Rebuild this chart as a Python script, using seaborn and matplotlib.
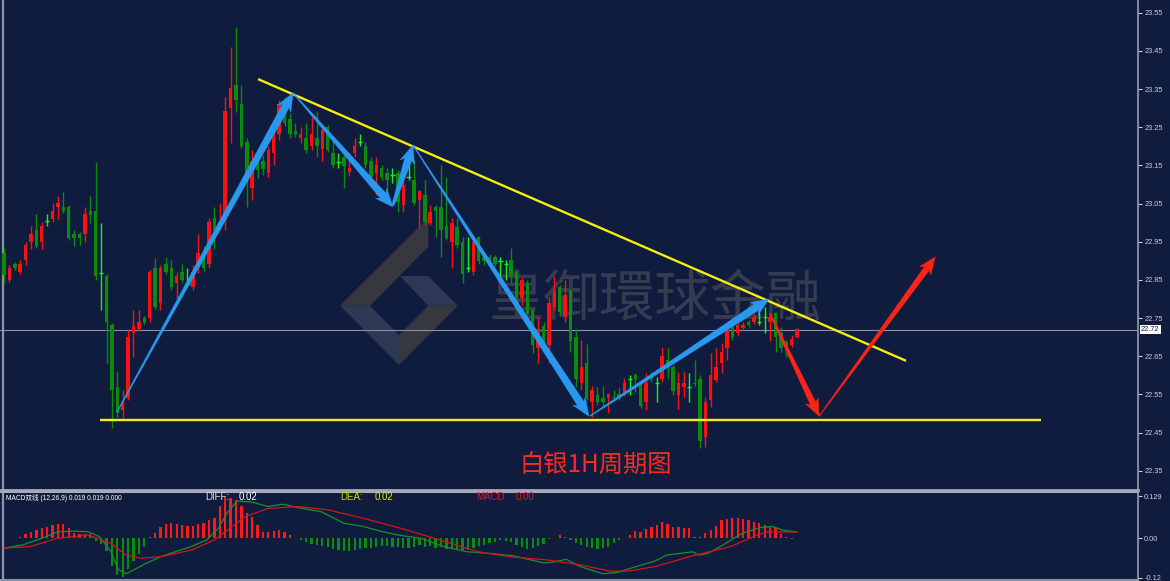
import numpy as np
import matplotlib
matplotlib.use("Agg")
import matplotlib.pyplot as plt
import matplotlib.transforms as mtransforms
from matplotlib.patches import Polygon
import seaborn as sns

# ---------------- data ----------------
opens = [22.920,22.849,22.891,22.870,22.902,22.949,22.980,22.949,23.003,23.009,
         23.041,23.041,23.041,22.970,22.970,22.970,23.030,23.030,22.869,22.860,
         22.732,22.569,22.509,22.540,22.711,22.721,22.750,22.750,22.881,22.789,
         22.891,22.881,22.842,22.870,22.840,22.831,22.881,22.910,22.891,23.012,
         22.988,23.007,23.300,23.360,23.311,23.211,23.090,23.156,23.161,23.130,
         23.182,23.232,23.321,23.271,23.240,23.221,23.221,23.201,23.221,23.193,
         23.250,23.182,23.160,23.172,23.132,23.182,23.211,23.201,23.161,23.130,
         23.143,23.130,23.125,23.130,23.046,23.119,23.111,23.059,23.072,22.999,
         23.041,23.041,22.991,22.949,22.988,22.949,22.881,22.870,22.962,22.910,
         22.910,22.910,22.899,22.891,22.902,22.870,22.802,22.842,22.771,22.671,
         22.729,22.679,22.779,22.831,22.752,22.821,22.700,22.580,22.632,22.530,
         22.548,22.540,22.540,22.543,22.551,22.551,22.590,22.600,22.577,22.530,
         22.600,22.580,22.590,22.640,22.622,22.548,22.569,22.569,22.580,22.590,
         22.438,22.535,22.587,22.632,22.671,22.726,22.711,22.724,22.739,22.739,
         22.739,22.752,22.739,22.763,22.711,22.687,22.679,22.700]
highs = [22.933,22.889,22.897,22.902,22.949,22.991,23.022,23.001,23.022,23.051,
         23.070,23.080,23.046,22.980,22.975,23.041,23.070,23.159,22.999,22.865,
         22.737,22.608,22.561,22.718,22.771,22.771,22.755,22.876,22.907,22.889,
         22.910,22.902,22.870,22.891,22.881,22.889,22.970,22.939,23.012,23.041,
         23.051,23.329,23.460,23.512,23.360,23.221,23.190,23.190,23.177,23.201,
         23.242,23.321,23.329,23.287,23.261,23.250,23.261,23.277,23.290,23.256,
         23.256,23.216,23.182,23.177,23.182,23.221,23.232,23.211,23.172,23.172,
         23.151,23.143,23.143,23.138,23.119,23.172,23.164,23.085,23.111,23.046,
         23.046,23.151,23.119,23.012,23.012,22.962,22.962,22.962,22.965,22.923,
         22.918,22.915,22.910,22.902,22.933,22.876,22.855,22.849,22.776,22.752,
         22.739,22.805,22.860,22.836,22.849,22.826,22.721,22.692,22.682,22.572,
         22.569,22.572,22.553,22.561,22.566,22.593,22.600,22.606,22.587,22.606,
         22.608,22.595,22.674,22.671,22.627,22.608,22.608,22.606,22.640,22.600,
         22.543,22.658,22.671,22.684,22.737,22.745,22.737,22.739,22.745,22.763,
         22.771,22.779,22.763,22.766,22.726,22.692,22.705,22.724]
lows = [22.842,22.844,22.876,22.865,22.889,22.931,22.933,22.931,22.991,23.001,
        23.009,23.025,22.954,22.939,22.941,22.949,22.999,22.849,22.771,22.632,
        22.462,22.490,22.488,22.535,22.648,22.716,22.734,22.739,22.773,22.771,
        22.865,22.823,22.802,22.844,22.834,22.823,22.868,22.873,22.881,22.931,
        22.980,22.980,23.208,23.290,23.195,23.041,23.059,23.117,23.125,23.119,
        23.151,23.216,23.253,23.221,23.224,23.208,23.182,23.190,23.172,23.161,
        23.185,23.143,23.143,23.090,23.122,23.172,23.201,23.143,23.111,23.072,
        23.111,23.077,23.103,23.028,23.028,23.111,23.046,22.988,22.994,22.994,
        22.962,22.910,22.954,22.881,22.933,22.842,22.870,22.862,22.891,22.889,
        22.894,22.886,22.857,22.849,22.842,22.789,22.784,22.755,22.658,22.632,
        22.661,22.632,22.771,22.758,22.739,22.661,22.569,22.561,22.535,22.490,
        22.522,22.514,22.501,22.535,22.535,22.545,22.548,22.556,22.514,22.509,
        22.582,22.530,22.582,22.593,22.548,22.511,22.543,22.530,22.572,22.409,
        22.412,22.517,22.582,22.606,22.640,22.692,22.703,22.718,22.726,22.734,
        22.731,22.711,22.690,22.661,22.661,22.648,22.674,22.698]
closes = [22.862,22.881,22.881,22.891,22.941,22.970,22.939,22.991,23.003,23.030,
          23.051,23.030,22.959,22.959,22.959,23.022,23.020,22.860,22.869,22.739,
          22.561,22.501,22.530,22.700,22.729,22.739,22.739,22.870,22.779,22.881,
          22.870,22.831,22.860,22.849,22.840,22.870,22.920,22.881,23.001,22.980,
          23.001,23.292,23.352,23.321,23.201,23.119,23.161,23.138,23.140,23.190,
          23.224,23.311,23.261,23.232,23.232,23.232,23.190,23.232,23.201,23.242,
          23.190,23.151,23.160,23.148,23.143,23.201,23.211,23.151,23.119,23.151,
          23.119,23.111,23.125,23.054,23.098,23.119,23.051,23.083,23.001,23.028,
          23.030,22.980,22.959,22.999,22.941,22.865,22.881,22.949,22.899,22.899,
          22.899,22.891,22.899,22.891,22.860,22.802,22.849,22.760,22.679,22.721,
          22.671,22.789,22.821,22.766,22.810,22.690,22.590,22.622,22.540,22.561,
          22.530,22.530,22.551,22.540,22.540,22.580,22.590,22.590,22.519,22.580,
          22.590,22.580,22.650,22.622,22.559,22.580,22.580,22.569,22.577,22.428,
          22.530,22.600,22.622,22.661,22.718,22.700,22.732,22.732,22.732,22.752,
          22.739,22.752,22.752,22.700,22.671,22.671,22.695,22.721]

macd_hist = [0.002,0.002,0.002,0.005,
             0.013,0.020,0.026,0.031,0.036,0.042,0.045,0.043,0.030,0.015,0.012,0.013,0.014,
             -0.008,-0.018,-0.040,-0.085,-0.112,-0.118,-0.095,-0.070,-0.048,-0.028,
             0.003,
             0.017,0.036,0.043,0.046,0.043,0.041,0.039,0.039,0.043,0.046,0.056,0.061,0.097,
             0.127,0.124,0.117,0.100,0.076,0.066,0.041,0.020,0.018,0.022,0.025,0.020,0.010,0.002,
             -0.004,-0.010,-0.016,-0.020,-0.024,-0.028,-0.032,-0.036,-0.040,-0.038,
             -0.035,-0.032,-0.030,-0.030,-0.028,-0.024,-0.022,-0.025,-0.026,-0.029,
             -0.029,-0.026,-0.019,-0.026,-0.023,-0.030,-0.028,-0.032,-0.033,-0.035,
             -0.036,-0.035,-0.029,-0.023,-0.020,-0.015,-0.010,-0.005,-0.008,-0.012,
             -0.020,-0.028,-0.032,-0.031,-0.024,-0.016,-0.002,0.002,0.010,0.005,
             -0.004,-0.015,-0.020,-0.025,-0.030,-0.033,-0.030,-0.025,-0.015,-0.005,
             0.002,0.010,0.022,0.018,0.027,0.033,0.041,0.049,0.043,0.036,
             0.036,0.030,0.030,0.005,0.005,0.017,0.025,0.039,0.056,0.059,
             0.061,0.061,0.059,0.056,0.051,0.048,0.041,0.036,0.030,0.012,
             0.005,-0.002,0.002]

diff_bar = [0,3.5,7,10,13,15.6,17.7,19.8,21.2,22.7,25.9,29,34.7,37.6,39.7,41.5,43.2,46.1,
            48.9,51.7,54.6,58.8,63,66.6,70.2,73,77.3,81.5,85.8,90,94.3,100,102,104.2,106.8,
            111,113.7,117.2,120.7,122.8,127.7,128.7,130.5,133.3,136.8,140.3,142.4,144.4,147]
diff_val = [-0.030,-0.020,0.000,0.020,0.022,0.020,0.005,-0.040,-0.095,-0.108,-0.080,-0.056,
            -0.025,-0.005,0.030,0.081,0.114,0.110,0.097,0.104,0.093,0.081,0.046,0.036,0.020,
            0.010,0.000,-0.025,-0.041,-0.046,-0.053,-0.075,-0.072,-0.064,-0.086,-0.108,-0.104,
            -0.086,-0.069,-0.051,-0.041,-0.051,-0.046,-0.020,0.015,0.033,0.036,0.025,0.019]
dea_bar = [0,4.9,9.9,15.6,19.8,22.6,25.5,29,34.7,39,41.8,44.7,48.9,54.6,60.3,66.6,73.7,80.8,
           87.9,93.6,100.7,106.8,112.3,115.8,120.7,127.7,134.7,139.6,141.6,147]
dea_val = [-0.030,-0.025,0.000,0.010,-0.015,-0.051,-0.061,-0.056,-0.036,-0.005,0.030,0.066,
           0.091,0.097,0.086,0.061,0.030,-0.005,-0.041,-0.056,-0.066,-0.081,-0.100,-0.100,
           -0.086,-0.053,-0.025,0.010,0.020,0.019]

price_ticks = [22.35,22.45,22.55,22.65,22.75,22.85,22.95,23.05,23.15,23.25,23.35,23.45,23.55]
macd_ticks = [0.129, 0.0, -0.12]
macd_tick_labels = ["0.129", "0.00", "-0.12"]
current_price = 22.72

support_line = ([17.8, 192.2], [22.483, 22.483])
resist_line = ([47.1, 167.2], [23.376, 22.638])
blue_arrows = [((20.95, 22.504), (53.57, 23.340)),
               ((53.57, 23.340), (72.10, 23.041)),
               ((72.10, 23.046), (75.81, 23.203)),
               ((75.81, 23.203), (108.40, 22.493)),
               ((108.60, 22.493), (141.80, 22.800))]
red_arrows = [((142.0, 22.761), (151.1, 22.493)),
              ((151.1, 22.493), (172.6, 22.910))]

# ---------------- style ----------------
sns.set_theme(style="dark")
plt.rcParams['font.family'] = ['Liberation Sans', 'Noto Sans CJK SC', 'DejaVu Sans']
BG = '#101c3e'
GRID = '#8e93a6'
TXT = '#c9cdd8'

W, H = 1170, 581
fig = plt.figure(figsize=(W / 100, H / 100), dpi=100, facecolor=BG)
ax = fig.add_axes([0, 91 / H, 1138 / W, 490 / H])
axm = fig.add_axes([0, 1 / H, 1138 / W, 88 / H])
XL = (-0.741, 210.19)
for a in (ax, axm):
    a.set_facecolor(BG)
    a.grid(False)
    a.set_xlim(*XL)
    a.tick_params(axis='x', bottom=False, labelbottom=False)
ax.set_ylim(22.2995, 23.5833)
axm.set_ylim(-0.1271, 0.1412)

# ---------------- watermark (under the candles) ----------------
def px(pts):
    return [(x / W, 1 - y / H) for x, y in pts]

BROWN, SLATE = '#37373f', '#2d3854'
logo = [([(340, 305.7), (428.3, 217.7), (428.3, 246.7), (370, 305.7)], BROWN),
        ([(340, 305.7), (370, 305.7), (399, 335), (399, 365)], SLATE),
        ([(399, 335), (428.3, 305.7), (457.7, 305.7), (399, 365)], BROWN),
        ([(400, 276), (428.3, 276), (457.7, 305.7), (428.3, 305.7)], SLATE)]
for pts, col in logo:
    ax.add_patch(Polygon(px(pts), closed=True, transform=fig.transFigure,
                         fc=col, ec='none', zorder=1))
ax.text(655 / W, 1 - 300 / H, '皇御環球金融', transform=fig.transFigure, ha='center',
        va='center', fontsize=40, color='#363c50', family=['Noto Sans CJK TC'], zorder=1)

# ---------------- candles ----------------
o = np.array(opens); h = np.array(highs); l = np.array(lows); c = np.array(closes)
idx = np.arange(len(o))
doji = np.isclose(o, c, atol=1e-4)
bull = (c > o) & ~doji
bear = (c < o) & ~doji
RED, GREEN, LIME = '#ff1010', '#0a8c0a', '#19f019'
wick_col = np.where(doji, LIME, np.where(bull, RED, GREEN))
ax.vlines(idx, l, h, colors=list(wick_col), lw=1.0, zorder=3)
ax.bar(idx[bull], (c - o)[bull], bottom=o[bull], width=0.64, color=RED, lw=0, zorder=4)
ax.bar(idx[bear], (o - c)[bear], bottom=c[bear], width=0.64, color=GREEN, lw=0, zorder=4)
ax.hlines(o[doji], idx[doji] - 0.4, idx[doji] + 0.4, colors=LIME, lw=1.0, zorder=4)

# current price line
ax.axhline(current_price, color='#8a90a6', lw=0.8, zorder=2)

# trend lines
ax.plot(*support_line, color='#f4ef10', lw=1.7, zorder=5, solid_capstyle='butt')
ax.plot(*resist_line, color='#f4ef10', lw=1.7, zorder=5, solid_capstyle='butt')


def taper_arrow(a, p0, p1, w0, w1, hw, hl, color):
    T = a.transData
    s = T.transform(p0)
    e = T.transform(p1)
    d = e - s
    L = np.hypot(*d)
    u = d / L
    nrm = np.array([-u[1], u[0]])
    base = e - u * hl
    pts = [s + nrm * w0 / 2, base + nrm * w1 / 2, base - u * 3 + nrm * hw / 2, e,
           base - u * 3 - nrm * hw / 2, base - nrm * w1 / 2, s - nrm * w0 / 2]
    dp = T.inverted().transform(np.array(pts))
    a.add_patch(Polygon(dp, closed=True, fc=color, ec=color, lw=0.3, zorder=6))


BLUE = '#2a98ee'
for (p0, p1), w0 in zip(blue_arrows, [0.7, 0.7, 2.5, 0.7, 0.8]):
    taper_arrow(ax, p0, p1, w0, 7.5, 15, 15, BLUE)
for (p0, p1), w0 in zip(red_arrows, [1.2, 0.6]):
    taper_arrow(ax, p0, p1, w0, 6.0, 14, 14, '#ff2418')

ax.text(596 / W, 1 - 466 / H, '白银1H周期图', transform=fig.transFigure, ha='center',
        va='center', fontsize=17.5, color='#ff2a22', family=['Noto Sans CJK SC'], zorder=7)

# price axis
ax.yaxis.tick_right()
ax.set_yticks(price_ticks)
ax.set_yticklabels([f"{t:.2f}" for t in price_ticks])
ax.tick_params(axis='y', right=True, left=False, direction='out', length=3, width=0.8,
               colors=TXT, labelsize=5.3, pad=1.5)
blend = mtransforms.blended_transform_factory(ax.transAxes, ax.transData)
ax.text(1 + 3 / 1138, current_price, '22.72', transform=blend, ha='left', va='center',
        fontsize=5.3, color=BG, bbox=dict(boxstyle='square,pad=0.18', fc='white', ec='none'),
        zorder=8, clip_on=False)

for sp in ax.spines.values():
    sp.set_visible(True)
    sp.set_color(GRID)
ax.spines['top'].set_visible(False)
ax.spines['right'].set_linewidth(1.3)
ax.spines['left'].set_linewidth(1.6)
ax.spines['left'].set_position(('axes', 2.5 / 1138))
ax.spines['bottom'].set_linewidth(2.0)
ax.spines['bottom'].set_color('#a6aab8')

# ---------------- MACD panel ----------------
hist = np.array(macd_hist)
hidx = np.arange(len(hist))
axm.bar(hidx, hist, width=0.42, color=np.where(hist >= 0, '#ff1a1a', '#0b8c0b'), lw=0, zorder=3)
sns.lineplot(x=diff_bar, y=diff_val, ax=axm, color='#1c8f2a', lw=0.9, zorder=4, sort=False)
sns.lineplot(x=dea_bar, y=dea_val, ax=axm, color='#d01818', lw=0.9, zorder=4, sort=False)
axm.set_xlim(*XL)
axm.set_ylim(-0.1271, 0.1412)
axm.set_xlabel('')
axm.set_ylabel('')
axm.yaxis.tick_right()
axm.set_yticks(macd_ticks)
axm.set_yticklabels(macd_tick_labels)
axm.tick_params(axis='y', right=True, left=False, direction='out', length=3, width=0.8,
                colors=TXT, labelsize=5.3, pad=1.5)
for sp in axm.spines.values():
    sp.set_visible(True)
    sp.set_color(GRID)
axm.spines['top'].set_linewidth(1.5)
axm.spines['top'].set_color('#a6aab8')
axm.spines['right'].set_linewidth(1.3)
axm.spines['left'].set_linewidth(1.6)
axm.spines['left'].set_position(('axes', 2.5 / 1138))
axm.spines['bottom'].set_linewidth(1.5)

hy = 1 - 497.5 / H
fig.text(6 / W, hy, 'MACD双线 (12,26,9) 0.019 0.019 0.000', fontsize=4.8, color='white',
         va='center', ha='left')
fig.text(205 / W, hy, 'DIFF:', fontsize=7, color='#d8dce6', va='center', ha='left')
fig.text(239 / W, hy, '0.02', fontsize=7, color='white', va='center', ha='left')
fig.text(340 / W, hy, 'DEA:', fontsize=7, color='#d8d400', va='center', ha='left')
fig.text(375 / W, hy, '0.02', fontsize=7, color='#e8e400', va='center', ha='left')
fig.text(476 / W, hy, 'MACD:', fontsize=7, color='#e01818', va='center', ha='left')
fig.text(516 / W, hy, '0.00', fontsize=7, color='#e01818', va='center', ha='left')

fig.savefig('out.png', dpi=100, facecolor=BG)
